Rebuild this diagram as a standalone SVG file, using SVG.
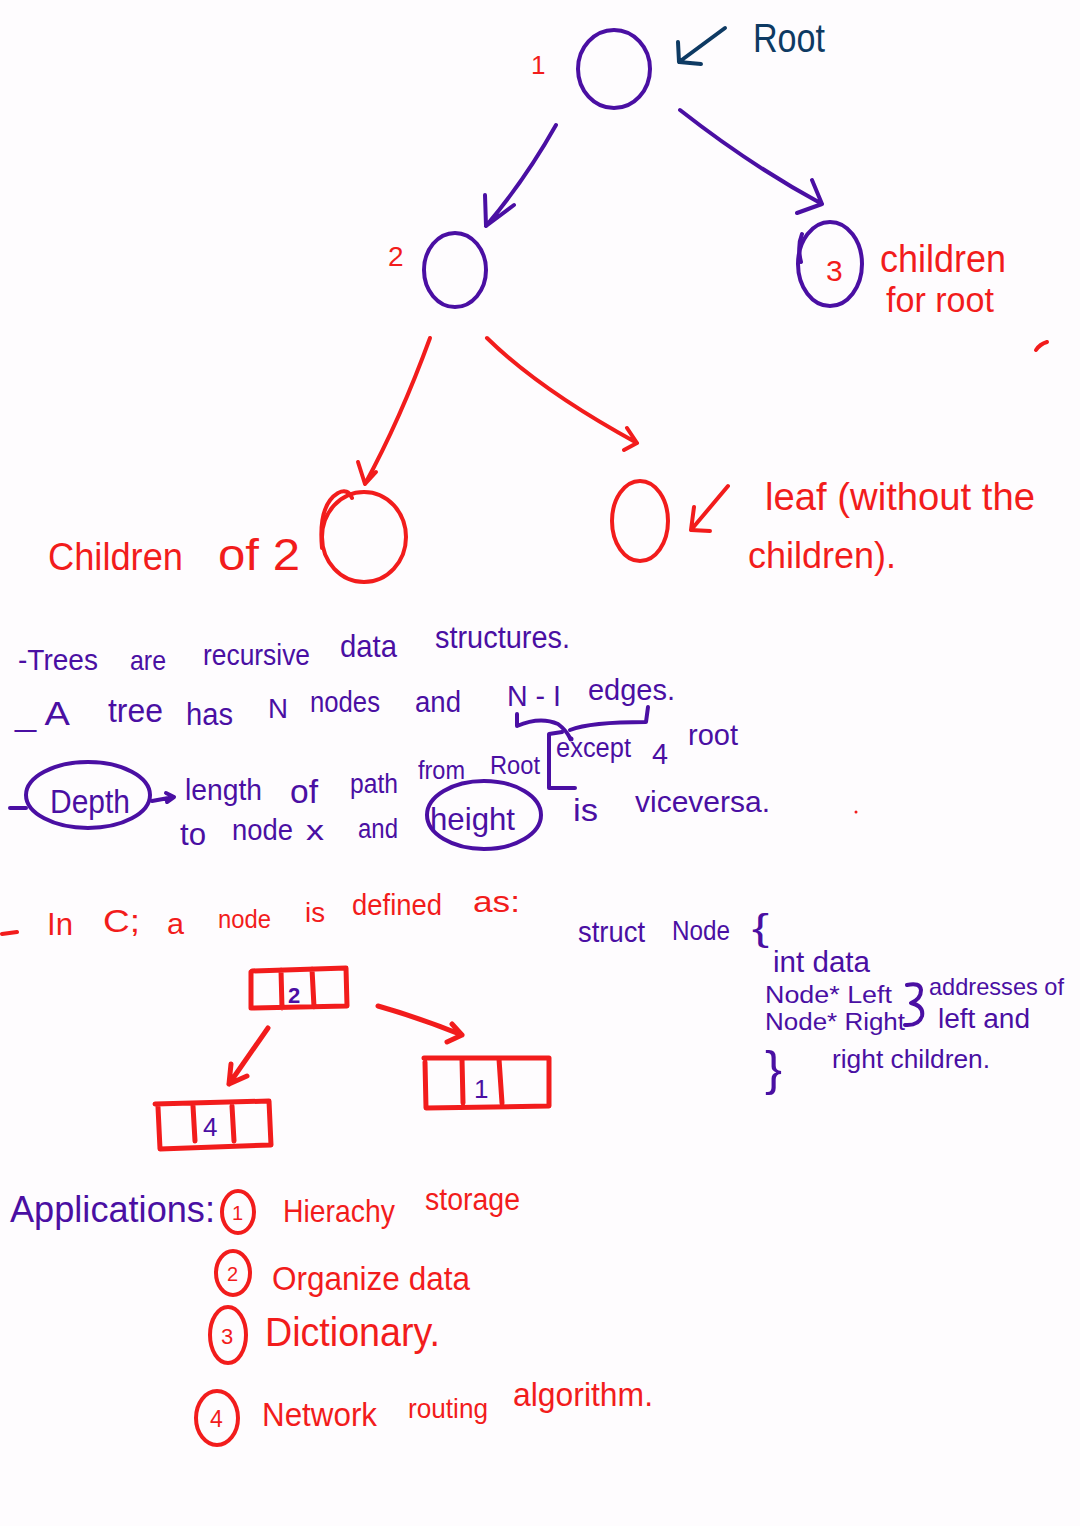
<svg xmlns="http://www.w3.org/2000/svg" width="1080" height="1526" viewBox="0 0 1080 1526">
<defs>
<style>
text{font-family:"Liberation Sans","DejaVu Sans",sans-serif;}
.p{fill:#4a0fa3;}
.r{fill:#f21c1c;}
.b{fill:#0e3a63;}
.sp{fill:none;stroke:#4a0fa3;stroke-width:4;stroke-linecap:round;stroke-linejoin:round;}
.sr{fill:none;stroke:#f21c1c;stroke-width:4;stroke-linecap:round;stroke-linejoin:round;}
.sb{fill:none;stroke:#0e3a63;stroke-width:4;stroke-linecap:round;stroke-linejoin:round;}
.box{fill:none;stroke:#f21c1c;stroke-width:5;stroke-linecap:round;stroke-linejoin:round;}
</style>
</defs>
<rect width="1080" height="1526" fill="#fefcfe"/>

<!-- Tree nodes -->
<g id="node-root">
<ellipse class="sp" cx="614" cy="69" rx="36" ry="39"/>
<text class="r" x="531" y="74" font-size="26">1</text>
</g>
<g id="label-root">
<text class="b" x="753" y="52" font-size="40" textLength="72" lengthAdjust="spacingAndGlyphs">Root</text>
</g>
<g id="node-2">
<ellipse class="sp" cx="455" cy="270" rx="31" ry="37"/>
<text class="r" x="388" y="266" font-size="28">2</text>
</g>
<g id="node-3">
<ellipse class="sp" cx="830" cy="264" rx="32" ry="42"/>
<path class="sp" d="M802 234 Q797 246 801 262" stroke-width="3"/>
<text class="r" x="826" y="281" font-size="30">3</text>
</g>
<g id="label-children-root">
<text class="r" x="880" y="272" font-size="38" textLength="126" lengthAdjust="spacingAndGlyphs">children</text>
<text class="r" x="886" y="312" font-size="35" textLength="108" lengthAdjust="spacingAndGlyphs">for root</text>
</g>
<g id="node-children-of-2">
<ellipse class="sr" cx="364" cy="537" rx="42" ry="45"/>
<path class="sr" d="M322 548 Q318 505 338 493 Q348 488 352 498" stroke-width="3"/>
</g>
<g id="label-children-of-2">
<text class="r" x="48" y="570" font-size="38" textLength="135" lengthAdjust="spacingAndGlyphs">Children</text>
<text class="r" x="218" y="570" font-size="44" textLength="82" lengthAdjust="spacingAndGlyphs">of 2</text>
</g>
<g id="node-leaf">
<ellipse class="sr" cx="640" cy="521" rx="28" ry="40"/>
</g>
<g id="label-leaf">
<text class="r" x="765" y="510" font-size="38" textLength="270" lengthAdjust="spacingAndGlyphs">leaf (without the</text>
<text class="r" x="748" y="568" font-size="37" textLength="148" lengthAdjust="spacingAndGlyphs">children).</text>
</g>
<path class="sr" d="M1036 350 Q1040 344 1047 342" stroke-width="2.5"/>

<!-- Connectors -->
<g id="connectors">
<path class="sb" d="M725 28 L679 62 M679 62 L678 42 M679 62 L701 64"/>
<path class="sp" d="M556 125 Q525 180 486 226 M486 226 L485 195 M486 226 L514 205"/>
<path class="sp" d="M680 110 Q750 165 822 204 M822 204 L812 180 M822 204 L797 213"/>
<path class="sr" d="M430 338 Q400 420 365 484 M365 484 L358 462 M365 484 L376 472"/>
<path class="sr" d="M487 338 Q540 390 637 443 M637 443 L627 428 M637 443 L624 450"/>
<path class="sr" d="M728 486 L691 530 M691 530 L694 507 M691 530 L710 531"/>
<path class="box" d="M268 1028 L229 1084 M229 1084 L231 1064 M229 1084 L247 1076"/>
<path class="box" d="M378 1006 Q420 1018 462 1035 M462 1035 L452 1024 M462 1035 L447 1042"/>
<path class="sp" d="M152 801 L174 797 M174 797 L166 793 M174 797 L167 802" stroke-width="2.5"/>
</g>

<!-- Notes (purple) -->
<g id="note-trees">
<text class="p" x="18" y="670" font-size="30" textLength="80" lengthAdjust="spacingAndGlyphs">-Trees</text>
<text class="p" x="130" y="670" font-size="28" textLength="36" lengthAdjust="spacingAndGlyphs">are</text>
<text class="p" x="203" y="665" font-size="29" textLength="107" lengthAdjust="spacingAndGlyphs">recursive</text>
<text class="p" x="340" y="657" font-size="32" textLength="57" lengthAdjust="spacingAndGlyphs">data</text>
<text class="p" x="435" y="648" font-size="31" textLength="135" lengthAdjust="spacingAndGlyphs">structures.</text>
</g>
<g id="note-edges">
<text class="p" x="15" y="725" font-size="34" textLength="55" lengthAdjust="spacingAndGlyphs">_ A</text>
<text class="p" x="108" y="722" font-size="33" textLength="55" lengthAdjust="spacingAndGlyphs">tree</text>
<text class="p" x="186" y="725" font-size="31" textLength="47" lengthAdjust="spacingAndGlyphs">has</text>
<text class="p" x="268" y="718" font-size="28" textLength="20" lengthAdjust="spacingAndGlyphs">N</text>
<text class="p" x="310" y="712" font-size="29" textLength="70" lengthAdjust="spacingAndGlyphs">nodes</text>
<text class="p" x="415" y="712" font-size="30" textLength="46" lengthAdjust="spacingAndGlyphs">and</text>
<text class="p" x="507" y="706" font-size="29" textLength="54" lengthAdjust="spacingAndGlyphs">N - I</text>
<text class="p" x="588" y="700" font-size="29" textLength="87" lengthAdjust="spacingAndGlyphs">edges.</text>
<path class="sp" d="M517 714 L517 726 Q540 716 558 724 Q566 730 570 738 M570 730 Q590 722 646 722 L648 707" stroke-width="3.5"/>
<circle cx="571" cy="739" r="2.5" fill="#4a0fa3"/>
<path class="sp" d="M562 732 L549 734 L549 788 L575 788" stroke-width="3.5"/>
<text class="p" x="556" y="757" font-size="27" textLength="75" lengthAdjust="spacingAndGlyphs">except</text>
<text class="p" x="652" y="764" font-size="29" textLength="16" lengthAdjust="spacingAndGlyphs">4</text>
<text class="p" x="688" y="745" font-size="30" textLength="50" lengthAdjust="spacingAndGlyphs">root</text>
</g>
<g id="note-depth">
<path class="sp" d="M10 808 L26 808" stroke-width="3"/>
<ellipse class="sp" cx="88" cy="795" rx="62" ry="33"/>
<text class="p" x="50" y="813" font-size="33" textLength="80" lengthAdjust="spacingAndGlyphs">Depth</text>
<text class="p" x="185" y="800" font-size="30" textLength="77" lengthAdjust="spacingAndGlyphs">length</text>
<text class="p" x="290" y="803" font-size="33" textLength="28" lengthAdjust="spacingAndGlyphs">of</text>
<text class="p" x="350" y="793" font-size="27" textLength="48" lengthAdjust="spacingAndGlyphs">path</text>
<text class="p" x="418" y="779" font-size="26" textLength="47" lengthAdjust="spacingAndGlyphs">from</text>
<text class="p" x="490" y="774" font-size="26" textLength="50" lengthAdjust="spacingAndGlyphs">Root</text>
<text class="p" x="180" y="845" font-size="31" textLength="26" lengthAdjust="spacingAndGlyphs">to</text>
<text class="p" x="232" y="840" font-size="29" textLength="61" lengthAdjust="spacingAndGlyphs">node</text>
<text class="p" x="306" y="840" font-size="28" textLength="18" lengthAdjust="spacingAndGlyphs">x</text>
<text class="p" x="358" y="838" font-size="27" textLength="40" lengthAdjust="spacingAndGlyphs">and</text>
<ellipse class="sp" cx="484" cy="815" rx="57" ry="34"/>
<text class="p" x="430" y="830" font-size="32" textLength="85" lengthAdjust="spacingAndGlyphs">height</text>
<text class="p" x="573" y="821" font-size="31" textLength="25" lengthAdjust="spacingAndGlyphs">is</text>
<text class="p" x="635" y="812" font-size="30" textLength="135" lengthAdjust="spacingAndGlyphs">viceversa.</text>
<circle cx="856" cy="812" r="1.5" fill="#f21c1c"/>
</g>

<!-- Notes (red) -->
<g id="note-in-c">
<path class="sr" d="M2 934 L17 932" stroke-width="3"/>
<text class="r" x="47" y="935" font-size="31" textLength="26" lengthAdjust="spacingAndGlyphs">In</text>
<text class="r" x="103" y="932" font-size="31" textLength="37" lengthAdjust="spacingAndGlyphs">C;</text>
<text class="r" x="167" y="934" font-size="30" textLength="17" lengthAdjust="spacingAndGlyphs">a</text>
<text class="r" x="218" y="928" font-size="26" textLength="53" lengthAdjust="spacingAndGlyphs">node</text>
<text class="r" x="305" y="922" font-size="27" textLength="20" lengthAdjust="spacingAndGlyphs">is</text>
<text class="r" x="352" y="915" font-size="30" textLength="90" lengthAdjust="spacingAndGlyphs">defined</text>
<text class="r" x="473" y="912" font-size="30" textLength="47" lengthAdjust="spacingAndGlyphs">as:</text>
</g>

<g id="note-struct">
<text class="p" x="578" y="942" font-size="29" textLength="67" lengthAdjust="spacingAndGlyphs">struct</text>
<text class="p" x="672" y="940" font-size="28" textLength="58" lengthAdjust="spacingAndGlyphs">Node</text>
<text class="p" x="752" y="940" font-size="36" textLength="17" lengthAdjust="spacingAndGlyphs">{</text>
<text class="p" x="773" y="972" font-size="29" textLength="97" lengthAdjust="spacingAndGlyphs">int data</text>
<text class="p" x="765" y="1003" font-size="23" textLength="127" lengthAdjust="spacingAndGlyphs">Node* Left</text>
<text class="p" x="765" y="1030" font-size="23" textLength="140" lengthAdjust="spacingAndGlyphs">Node* Right</text>
<text class="p" x="765" y="1085" font-size="48" textLength="17" lengthAdjust="spacingAndGlyphs">}</text>
<path class="sp" d="M907 985 Q920 982 921 990 Q921 999 911 1003 Q924 1006 922 1016 Q919 1026 905 1025" stroke-width="3"/>
<text class="p" x="929" y="995" font-size="24" textLength="135" lengthAdjust="spacingAndGlyphs">addresses of</text>
<text class="p" x="938" y="1028" font-size="27" textLength="92" lengthAdjust="spacingAndGlyphs">left and</text>
<text class="p" x="832" y="1068" font-size="26" textLength="158" lengthAdjust="spacingAndGlyphs">right children.</text>
</g>

<!-- Linked node boxes -->
<g id="box-2">
<path class="box" d="M251 972 L251 1008 L347 1006 L346 968 L252 971 M281 970 L282 1008 M312 969 L314 1007"/>
<text class="p" x="288" y="1003" font-size="22" font-weight="bold">2</text>
</g>
<g id="box-1">
<path class="box" d="M425 1062 L426 1108 L549 1106 L549 1058 L424 1058 M462 1059 L463 1103 M499 1059 L502 1103"/>
<text class="p" x="474" y="1098" font-size="26">1</text>
</g>
<g id="box-4">
<path class="box" d="M158 1107 L160 1149 L271 1145 L269 1101 L155 1104 M193 1106 L195 1141 M232 1106 L234 1141"/>
<text class="p" x="203" y="1136" font-size="26">4</text>
</g>

<!-- Applications -->
<g id="applications">
<text class="p" x="10" y="1222" font-size="36" textLength="205" lengthAdjust="spacingAndGlyphs">Applications:</text>
<ellipse class="sr" cx="238" cy="1212" rx="16" ry="21"/>
<text class="r" x="232" y="1220" font-size="20">1</text>
<text class="r" x="283" y="1222" font-size="32" textLength="112" lengthAdjust="spacingAndGlyphs">Hierachy</text>
<text class="r" x="425" y="1210" font-size="31" textLength="95" lengthAdjust="spacingAndGlyphs">storage</text>
<ellipse class="sr" cx="233" cy="1273" rx="17" ry="22"/>
<text class="r" x="227" y="1281" font-size="20">2</text>
<text class="r" x="272" y="1290" font-size="34" textLength="198" lengthAdjust="spacingAndGlyphs">Organize data</text>
<ellipse class="sr" cx="228" cy="1335" rx="18" ry="28"/>
<text class="r" x="221" y="1344" font-size="22">3</text>
<text class="r" x="265" y="1346" font-size="40" textLength="175" lengthAdjust="spacingAndGlyphs">Dictionary.</text>
<ellipse class="sr" cx="217" cy="1418" rx="21" ry="27"/>
<text class="r" x="210" y="1427" font-size="23">4</text>
<text class="r" x="262" y="1426" font-size="33" textLength="115" lengthAdjust="spacingAndGlyphs">Network</text>
<text class="r" x="408" y="1418" font-size="28" textLength="80" lengthAdjust="spacingAndGlyphs">routing</text>
<text class="r" x="513" y="1406" font-size="33" textLength="140" lengthAdjust="spacingAndGlyphs">algorithm.</text>
</g>
</svg>
